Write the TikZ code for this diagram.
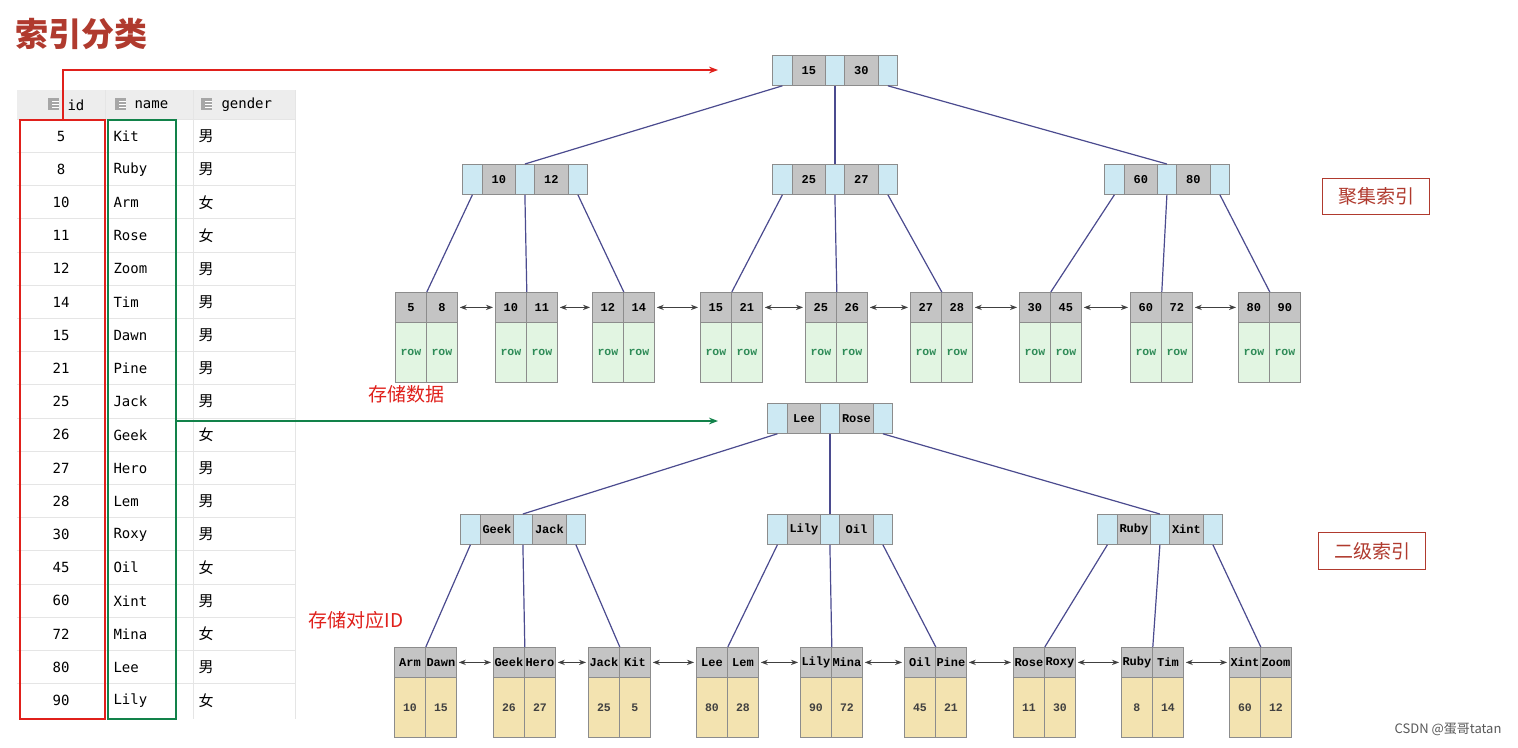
\documentclass[tikz,border=0pt]{standalone}
\usepackage{fontspec}
\setmainfont{DejaVu Sans Mono}
\newfontfamily\cjk{Noto Sans CJK SC}
\newfontfamily\mono{DejaVu Sans Mono}
\newfontfamily\cmono{Liberation Mono}
\usetikzlibrary{arrows.meta}
\definecolor{cy}{HTML}{CDE9F3}
\definecolor{gr}{HTML}{C4C4C4}
\definecolor{lg}{HTML}{E2F5E2}
\definecolor{ye}{HTML}{F3E3B0}
\definecolor{ln}{HTML}{4B4B8F}
\definecolor{rowc}{HTML}{2E8B57}
\definecolor{ttl}{HTML}{B03A2E}
\definecolor{rd}{HTML}{E0201B}
\definecolor{gn}{HTML}{12824A}
\tikzset{
 cell/.style={draw=black!45,line width=0.8pt,anchor=north west,inner sep=0,minimum height=30,font=\cmono\fontsize{12}{12}\selectfont\bfseries},
 tl/.style={ln,line width=1.2pt},
 la/.style={{Stealth[length=7pt]}-{Stealth[length=7pt]},black!75,line width=0.9pt,shorten <=2pt,shorten >=2pt},
 td/.style={anchor=west,font=\mono\fontsize{14}{14}\selectfont},
}
\newcommand\inn[5]{%
 \node[cell,fill=cy,minimum width=20] (#1-c1) at (#2,#3) {};
 \node[cell,fill=gr,minimum width=33] (#1-k1) at (#2+20,#3) {#4};
 \node[cell,fill=cy,minimum width=19] (#1-c2) at (#2+53,#3) {};
 \node[cell,fill=gr,minimum width=34] (#1-k2) at (#2+72,#3) {#5};
 \node[cell,fill=cy,minimum width=19] (#1-c3) at (#2+106,#3) {};}
\newcommand\leaf[9]{%
 \node[cell,fill=gr,minimum width=31] (#1-a) at (#2,#3) {#4};
 \node[cell,fill=gr,minimum width=31] (#1-b) at (#2+31,#3) {#5};
 \node[cell,fill=#8,minimum width=31,minimum height=60,text=#9,font=\cmono\fontsize{11.5}{11}\selectfont\bfseries] (#1-c) at (#2,#3+30) {#6};
 \node[cell,fill=#8,minimum width=31,minimum height=60,text=#9,font=\cmono\fontsize{11.5}{11}\selectfont\bfseries] (#1-d) at (#2+31,#3+30) {#7};}
\begin{document}
\begin{tikzpicture}[x=1pt,y=-1pt]
\useasboundingbox[fill=white] (0,0) rectangle (1518,747);
\node[anchor=west,text=ttl,font=\cjk\fontsize{33}{33}\selectfont\bfseries] (title) at (12,34) {索引分类};
% table
\fill[black!7] (17,90) rectangle (295,119);
\foreach \i in {0,...,17} \draw[black!10] (17,{119+\i*33.2}) -- (295,{119+\i*33.2});
\draw[black!10] (105,90) -- (105,719) (193,90)--(193,719) (295,90)--(295,719);
\foreach \xx in {48,115,201}{\fill[black!35] (\xx,98) rectangle ++(11,12); \foreach \k in {0,1,2}\draw[white] (\xx+4,{101+\k*3}) -- ++(7,0);}
\node[td] (h1) at (64,105) {id};
\node[td] (h2) at (131,105) {name};
\node[td] (h3) at (218,105) {gender};
\foreach \id/\nm/\g [count=\i from 0] in {5/Kit/男,8/Ruby/男,10/Arm/女,11/Rose/女,12/Zoom/男,14/Tim/男,15/Dawn/男,21/Pine/男,25/Jack/男,26/Geek/女,27/Hero/男,28/Lem/男,30/Roxy/男,45/Oil/女,60/Xint/男,72/Mina/女,80/Lee/男,90/Lily/女}{
 \node[font=\mono\fontsize{14}{14}\selectfont] (id\i) at (61,{136+\i*33.2}) {\id};
 \node[td] (nm\i) at (110,{136+\i*33.2}) {\nm};
 \node[td,font=\cjk\fontsize{15}{15}\selectfont] (g\i) at (195,{136+\i*33.2}) {\g};}
\draw[rd,line width=2pt] (20,120) rectangle (105,719);
\draw[gn,line width=2pt] (108,120) rectangle (176,719);
% top tree
\inn{r}{772}{55}{15}{30}
\inn{a}{462}{164}{10}{12}
\inn{b}{772}{164}{25}{27}
\inn{c}{1104}{164}{60}{80}
\coordinate (rt) at (718,70);
\coordinate (gt) at (718,421);
\draw[rd,line width=2pt,-{Stealth[length=9pt]}] (63,120) -- (63,70) -- (rt);
\draw[gn,line width=2pt,-{Stealth[length=9pt]}] (176,421) -- (gt);
\foreach \nm/\x/\a/\b in {l1/395/5/8,l2/495/10/11,l3/592/12/14,l4/700/15/21,l5/805/25/26,l6/910/27/28,l7/1019/30/45,l8/1130/60/72,l9/1238/80/90}
 \leaf{\nm}{\x}{292}{\a}{\b}{row}{row}{lg}{rowc};
\draw[tl] (r-c1.south) -- (a-c2.north);
\draw[tl] (r-c2.south) -- (b-c2.north);
\draw[tl] (r-c3.south) -- (c-c2.north);
\foreach \p/\u/\v/\w in {a/l1/l2/l3,b/l4/l5/l6,c/l7/l8/l9}{
 \draw[tl] (\p-c1.south) -- (\u-a.north east);
 \draw[tl] (\p-c2.south) -- (\v-a.north east);
 \draw[tl] (\p-c3.south) -- (\w-a.north east);}
\foreach \u/\v in {l1/l2,l2/l3,l3/l4,l4/l5,l5/l6,l6/l7,l7/l8,l8/l9} \draw[la] (\u-b.east) -- (\v-a.west);
% bottom tree
\inn{R}{767}{403}{Lee}{Rose}
\inn{A}{460}{514}{Geek}{Jack}
\inn{B}{767}{514}{Lily}{Oil}
\inn{C}{1097}{514}{Ruby}{Xint}
\foreach \nm/\x/\a/\b/\c/\d in {m1/394/Arm/Dawn/10/15,m2/493/Geek/Hero/26/27,m3/588/Jack/Kit/25/5,m4/696/Lee/Lem/80/28,m5/800/Lily/Mina/90/72,m6/904/Oil/Pine/45/21,m7/1013/Rose/Roxy/11/30,m8/1121/Ruby/Tim/8/14,m9/1229/Xint/Zoom/60/12}
 \leaf{\nm}{\x}{647}{\a}{\b}{\c}{\d}{ye}{black!75};
\draw[tl] (R-c1.south) -- (A-c2.north);
\draw[tl] (R-c2.south) -- (B-c2.north);
\draw[tl] (R-c3.south) -- (C-c2.north);
\foreach \p/\u/\v/\w in {A/m1/m2/m3,B/m4/m5/m6,C/m7/m8/m9}{
 \draw[tl] (\p-c1.south) -- (\u-a.north east);
 \draw[tl] (\p-c2.south) -- (\v-a.north east);
 \draw[tl] (\p-c3.south) -- (\w-a.north east);}
\foreach \u/\v in {m1/m2,m2/m3,m3/m4,m4/m5,m5/m6,m6/m7,m7/m8,m8/m9} \draw[la] (\u-b.east) -- (\v-a.west);
% labels
\node[anchor=west,text=rd,font=\cjk\fontsize{19}{19}\selectfont] (s1) at (365,394) {存储数据};
\node[anchor=west,text=rd,font=\cjk\fontsize{19}{19}\selectfont] (s2) at (305,620) {存储对应ID};
\node[draw=ttl,line width=1pt,text=ttl,minimum width=107,minimum height=36,font=\cjk\fontsize{19}{19}\selectfont] (k1) at (1376,196) {聚集索引};
\node[draw=ttl,line width=1pt,text=ttl,minimum width=107,minimum height=37,font=\cjk\fontsize{19}{19}\selectfont] (k2) at (1372,551) {二级索引};
\node[anchor=east,text=black!65,font=\cjk\fontsize{13}{13}\selectfont] (csdn) at (1505,729) {CSDN @蛋哥tatan};
\end{tikzpicture}
\end{document}
